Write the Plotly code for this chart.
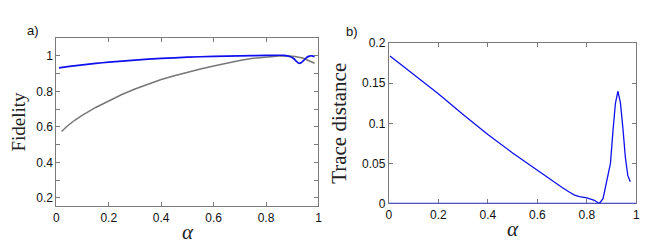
import plotly.graph_objects as go

# Panel a) Fidelity
alpha_fid_blue = [0.01, 0.05, 0.1, 0.15, 0.2, 0.3, 0.4, 0.5, 0.6, 0.7, 0.8, 0.85, 0.87, 0.89, 0.905, 0.915, 0.925, 0.935, 0.945, 0.955, 0.965, 0.975, 0.985]
fid_blue = [0.932, 0.940, 0.949, 0.957, 0.964, 0.976, 0.985, 0.992, 0.997, 1.000, 1.002, 1.003, 1.002, 0.996, 0.985, 0.970, 0.958, 0.962, 0.976, 0.990, 0.998, 1.000, 0.995]
alpha_fid_gray = [0.02, 0.04, 0.07, 0.1, 0.15, 0.2, 0.25, 0.3, 0.35, 0.4, 0.45, 0.5, 0.55, 0.6, 0.65, 0.7, 0.75, 0.8, 0.85, 0.88, 0.91, 0.94, 0.96, 0.985]
fid_gray = [0.574, 0.602, 0.637, 0.666, 0.709, 0.747, 0.782, 0.813, 0.841, 0.866, 0.888, 0.908, 0.926, 0.942, 0.959, 0.974, 0.986, 0.994, 0.999, 1.000, 0.996, 0.987, 0.976, 0.958]

# Panel b) Trace distance
alpha_td = [0.005, 0.1, 0.2, 0.3, 0.4, 0.5, 0.6, 0.65, 0.7, 0.73, 0.75, 0.77, 0.8, 0.83, 0.85, 0.865, 0.875, 0.885, 0.895, 0.905, 0.915, 0.925, 0.935, 0.945, 0.955, 0.965, 0.975]
td_blue = [0.184, 0.161, 0.137, 0.111, 0.086, 0.063, 0.041, 0.030, 0.020, 0.014, 0.0105, 0.0085, 0.007, 0.004, 0.0, 0.006, 0.022, 0.033, 0.050, 0.090, 0.125, 0.140, 0.126, 0.095, 0.058, 0.035, 0.027]
alpha_zero = [0.0, 1.0]
td_zero = [0.0, 0.0]

x_ticks = [0, 0.2, 0.4, 0.6, 0.8, 1]
x_ticklabels = ["0", "0.2", "0.4", "0.6", "0.8", "1"]
fid_ticks = [0.2, 0.4, 0.6, 0.8, 1]
fid_ticklabels = ["0.2", "0.4", "0.6", "0.8", "1"]
td_ticks = [0, 0.05, 0.1, 0.15, 0.2]
td_ticklabels = ["0", "0.05", "0.1", "0.15", "0.2"]

BLUE = "#1010ee"
GRAY = "#777777"
AX = "#7a7a7a"

fig = go.Figure()
fig.add_trace(go.Scatter(x=alpha_fid_gray, y=fid_gray, mode="lines", line=dict(color=GRAY, width=1.5), xaxis="x", yaxis="y", showlegend=False))
fig.add_trace(go.Scatter(x=alpha_fid_blue, y=fid_blue, mode="lines", line=dict(color=BLUE, width=1.7, shape="spline", smoothing=0.6), xaxis="x", yaxis="y", showlegend=False))
fig.add_trace(go.Scatter(x=alpha_zero, y=td_zero, mode="lines", line=dict(color="#3030f0", width=1.6), xaxis="x2", yaxis="y2", showlegend=False, cliponaxis=False))
fig.add_trace(go.Scatter(x=alpha_td, y=td_blue, mode="lines", line=dict(color=BLUE, width=1.3), xaxis="x2", yaxis="y2", showlegend=False))

tickfont = dict(family="Liberation Sans, Arial, sans-serif", size=12, color="#111")
serif = "Liberation Serif, Times New Roman, serif"

common = dict(showline=True, linecolor=AX, linewidth=1, mirror="ticks", ticks="inside", ticklen=4, tickcolor=AX,
              showgrid=False, zeroline=False, tickfont=tickfont, layer="below traces")

fig.update_layout(
    width=664, height=243,
    margin=dict(l=0, r=0, t=0, b=0),
    paper_bgcolor="white", plot_bgcolor="white",
    xaxis=dict(domain=[0.069, 0.468], range=[0, 1], tickvals=x_ticks, ticktext=x_ticklabels,
               title=dict(text="<i>α</i>", font=dict(family=serif, size=21, color="#222"), standoff=0), anchor="y", **common),
    yaxis=dict(domain=[0.165, 0.901], range=[0.153, 1.102], tickvals=fid_ticks, ticktext=fid_ticklabels,
               minor=dict(dtick=0.1, tick0=0.1, ticks="inside", ticklen=4, tickcolor=AX),
               title=dict(text="Fidelity", font=dict(family=serif, size=19, color="#222"), standoff=14), anchor="x", **common),
    xaxis2=dict(domain=[0.575, 0.952], range=[0, 1], tickvals=x_ticks, ticktext=x_ticklabels,
                title=dict(text="<i>α</i>", font=dict(family=serif, size=21, color="#222"), standoff=0), anchor="y2", **common),
    yaxis2=dict(domain=[0.177, 0.877], range=[0, 0.2], tickvals=td_ticks, ticktext=td_ticklabels,
                title=dict(text="Trace distance", font=dict(family=serif, size=21, color="#222"), standoff=9), anchor="x2", **common),
    annotations=[
        dict(text="a)", x=14 / 664, y=1 - 16 / 243, xref="paper", yref="paper", showarrow=False,
             xanchor="left", yanchor="middle", font=dict(family="Liberation Sans, Arial, sans-serif", size=13, color="#111")),
        dict(text="b)", x=337 / 664, y=1 - 18 / 243, xref="paper", yref="paper", showarrow=False,
             xanchor="left", yanchor="middle", font=dict(family="Liberation Sans, Arial, sans-serif", size=13, color="#111")),
    ],
)

fig.write_html("out.html")
